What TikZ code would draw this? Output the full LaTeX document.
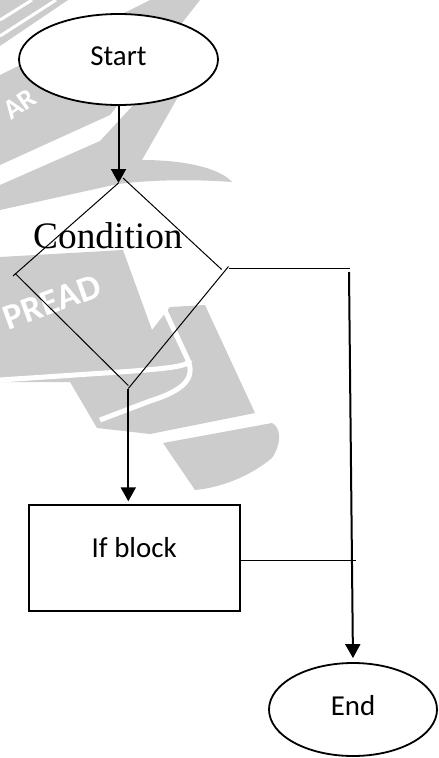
\documentclass[tikz,border=0pt]{standalone}
\usepackage{fontspec}
\setmainfont{Carlito}
\newfontfamily\condfont{Liberation Serif}
\usetikzlibrary{shapes.geometric,arrows.meta}
\definecolor{wm}{RGB}{204,204,204}
\tikzset{
  term/.style={ellipse, draw, line width=1.8bp, fill=white, inner sep=0pt,
    font=\fontsize{29}{34}\selectfont},
  procbox/.style={rectangle, draw, line width=1.8bp, fill=white, inner sep=0pt,
    font=\fontsize{29}{34}\selectfont},
  thinline/.style={line width=1bp},
  flow/.style={line width=2bp, -{Triangle[length=14bp,width=15bp]}},
  wmtext/.style={white, font=\bfseries\fontsize{36}{40}\selectfont, inner sep=0pt}
}
\begin{document}
\begin{tikzpicture}[x=1bp,y=-1bp]
\useasboundingbox (0,0) rectangle (439,758);
% watermark
\begin{scope}
  \clip (0,0) rectangle (439,758);
  \fill[wm] (0,0) -- (68,0) -- (0,46) -- cycle;
  \draw[white, line width=3bp] (0,20) -- (32,0) (0,36) -- (56,0);
  \fill[wm] (0,75) -- (150,0) -- (200,0) -- (110,115) -- (0,165) -- cycle;
  \fill[wm] (0,185) -- (100,141) -- (137,101) -- (178,97) -- (142,160)
    .. controls (190,160) and (222,170) .. (232,182)
    .. controls (190,179) and (150,180) .. (118,184) -- (0,210) -- cycle;
  \fill[wm] (0,257) -- (123,250) -- (152,330) -- (170,307) -- (205,305)
    -- (255,413) -- (150,434) -- (97,428) -- (70,382) -- (0,382) -- cycle;
  \draw[white, line width=5bp] (0,380) -- (120,372) .. controls (175,368) and (188,366) .. (190,360);
  \draw[white, line width=5bp] (160,300) -- (188,360) .. controls (195,378) and (185,390) .. (150,401) -- (100,420);
  \fill[wm] (163,443) -- (272,423) .. controls (282,428) and (281,445) .. (272,458)
    .. controls (248,478) and (218,488) .. (195,490) -- cycle;
  \node[wmtext, rotate=20] (wmpread) at (52,302) {PREAD};
  \node[wmtext, rotate=35, font=\bfseries\fontsize{28}{30}\selectfont] (wmar) at (20,104) {AR};
\end{scope}

% terminals and process box
\node[term, minimum width=199bp, minimum height=91bp, text depth=6bp] (start) at (118.5,59.5) {Start};
\node[term, minimum width=168bp, minimum height=93bp, text depth=9bp] (endn) at (353,709.5) {End};
\node[procbox, minimum width=211bp, minimum height=106bp, text depth=22bp] (ifb) at (134.2,558.2) {If block};

% decision (drawn as four strokes, as in the reference)
\coordinate (ctop) at (123,178);
\coordinate (cin) at (118.5,183);
\coordinate (cleft) at (13,276);
\coordinate (cbot) at (128.3,388.5);
\coordinate (cright) at (228.5,266.5);
\draw[thinline] (cin) -- (cleft);
\draw[thinline] (15,273.3) -- (128.3,385.5);
\draw[thinline] (cbot) -- (cright);
\draw[thinline] (ctop) -- (221.7,269.5);
\node[font=\condfont\fontsize{37.5}{40}\selectfont, anchor=base west, inner sep=0pt] (cond) at (33,248) {Condition};

% connectors
\coordinate (rj) at (350,268.5);
\coordinate (rv) at (349,272);
\coordinate (bj) at (356,560);
\draw[flow] (start.south) -- (cin);
\draw[thinline] (cright |- rj) -- (rj);
\draw[flow, shorten >=4bp] (rv) -- (endn.north);
\draw[flow, shorten >=3bp] (cbot) -- (cbot |- ifb.north);
\draw[thinline] (ifb.east |- bj) -- (bj);
\end{tikzpicture}
\end{document}
